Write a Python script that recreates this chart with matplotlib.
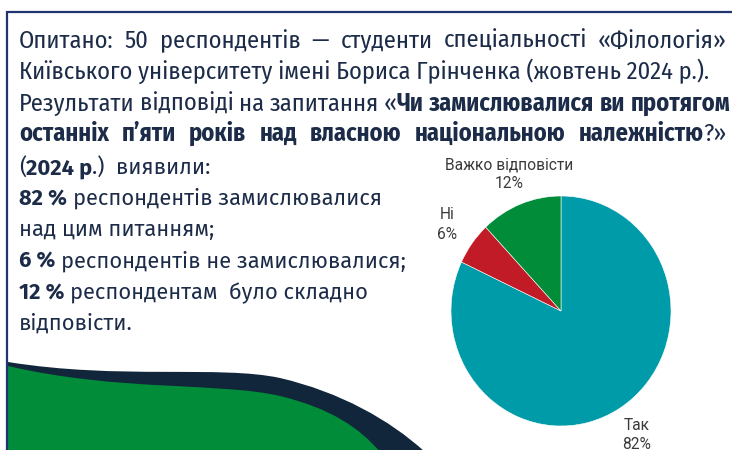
import matplotlib
matplotlib.use("Agg")
import matplotlib.pyplot as plt
from matplotlib import font_manager
from matplotlib.path import Path
from matplotlib.patches import PathPatch

# -------------------------------
# Data
# -------------------------------
answers = ["Так", "Ні", "Важко відповісти"]
shares = [82, 6, 12]
slice_colors = ["#009ba8", "#c01b27", "#008c39"]

N, B = "normal", "bold"
# each line: list of words, each word: list of (text, weight) runs
top_lines = [
    [[("Опитано:", N)], [("50", N)], [("респондентів", N)], [("—", N)],
     [("студенти", N)], [("спеціальності", N)], [("«Філологія»", N)]],
    [[("Київського університету імені Бориса Грінченка (жовтень 2024 р.).", N)]],
    [[("Результати", N)], [("відповіді", N)], [("на", N)], [("запитання", N)],
     [("«", N), ("Чи", B)], [("замислювалися", B)], [("ви", B)], [("протягом", B)]],
    [[("останніх", B)], [("п’яти", B)], [("років", B)], [("над", B)], [("власною", B)],
     [("національною", B)], [("належністю", B), ("?»", N)]],
]
top_justify = [727, None, 730, 727]
top_baselines = [48, 79, 111, 141]

bottom_lines = [
    [[("(", N), ("2024 р", B), (".)  виявили:", N)]],
    [[("82 %", B)], [("респондентів замислювалися", N)]],
    [[("над цим питанням;", N)]],
    [[("6 %", B)], [("респондентів не замислювалися;", N)]],
    [[("12 %", B)], [("респондентам  було складно", N)]],
    [[("відповісти.", N)]],
]
bottom_baselines = [175, 205, 236, 268, 299, 330]

TEXT_COLOR = "#1c2b48"
FRAME_COLOR = "#1f3470"
NAVY = "#12263b"
GREEN = "#008c39"
X0 = 19


def pick(*names):
    have = {f.name for f in font_manager.fontManager.ttflist}
    for n in names:
        if n in have:
            return n
    return "DejaVu Sans"


TOP_FONT = pick("Fira Sans Condensed", "Roboto Condensed", "Open Sans Condensed", "Noto Sans")
BOT_FONT = pick("Fira Sans", "Open Sans", "Noto Sans")
LABEL_FONT = pick("Roboto", "Inter", "Noto Sans")

fig = plt.figure(figsize=(7.32, 4.5), dpi=100)
bg = fig.add_axes([0, 0, 1, 1])
bg.set_xlim(0, 732)
bg.set_ylim(450, 0)
bg.axis("off")
renderer = fig.canvas.get_renderer()


def width_of(s, family, size, weight):
    t = bg.text(0, 0, s, family=family, fontsize=size, fontweight=weight)
    w = t.get_window_extent(renderer).width
    t.remove()
    return w


def space_of(family, size):
    return width_of("x x", family, size, N) - width_of("xx", family, size, N)


def line_width(words, family, size):
    total = sum(width_of(s, family, size, wt) for word in words for s, wt in word)
    return total + space_of(family, size) * (len(words) - 1)


def draw_line(words, family, size, y, right=None):
    sp = space_of(family, size)
    widths = [[width_of(s, family, size, wt) for s, wt in word] for word in words]
    if right is not None and len(words) > 1:
        used = sum(sum(w) for w in widths)
        sp = (right - X0 - used) / (len(words) - 1)
    x = X0
    for word, ws in zip(words, widths):
        for (s, wt), w in zip(word, ws):
            bg.text(x, y, s, family=family, fontsize=size, fontweight=wt,
                    color=TEXT_COLOR, va="baseline", ha="left")
            x += w
        x += sp


# fit font sizes to the widths seen in the picture
top_size = 10 * 688 / line_width(top_lines[1], TOP_FONT, 10)
bot_size = 10 * 362 / line_width(bottom_lines[1], BOT_FONT, 10)

for words, y, right in zip(top_lines, top_baselines, top_justify):
    draw_line(words, TOP_FONT, top_size, y, right)
for words, y in zip(bottom_lines, bottom_baselines):
    draw_line(words, BOT_FONT, bot_size, y)

# -------------------------------
# Frame and bottom wave
# -------------------------------
bg.plot([7, 7, 732], [452, 12, 12], color=FRAME_COLOR, lw=1.6, zorder=5,
        solid_joinstyle="miter")

navy_path = Path(
    [(8, 362), (120, 380), (220, 365), (280, 378), (340, 392), (390, 420), (425, 452),
     (8, 452), (8, 362)],
    [Path.MOVETO, Path.CURVE4, Path.CURVE4, Path.CURVE4, Path.CURVE4, Path.CURVE4,
     Path.CURVE4, Path.LINETO, Path.CLOSEPOLY])
green_path = Path(
    [(8, 366), (120, 392), (220, 382), (280, 396), (330, 408), (360, 428), (380, 452),
     (8, 452), (8, 366)],
    [Path.MOVETO, Path.CURVE4, Path.CURVE4, Path.CURVE4, Path.CURVE4, Path.CURVE4,
     Path.CURVE4, Path.LINETO, Path.CLOSEPOLY])
bg.add_patch(PathPatch(navy_path, facecolor=NAVY, edgecolor="none", zorder=2))
bg.add_patch(PathPatch(green_path, facecolor=GREEN, edgecolor="none", zorder=3))

# -------------------------------
# Pie
# -------------------------------
cx, cy, rx, ry = 561, 311, 110, 115
ax = fig.add_axes([(cx - rx) / 732, (450 - cy - ry) / 450, 2 * rx / 732, 2 * ry / 450])
labels = [f"{a}\n{v}%" for a, v in zip(answers, shares)]
wedges, texts = ax.pie(shares, labels=labels, colors=slice_colors, startangle=90,
                       counterclock=False, labeldistance=1.28,
                       wedgeprops=dict(edgecolor="white", linewidth=0.4),
                       textprops=dict(family=LABEL_FONT, fontsize=11.2, color="#3a3a3a",
                                      linespacing=1.35))
for t in texts:
    t.set_ha("center")
    t.set_va("center")
ax.set_aspect("auto")
ax.set_xlim(-1, 1)
ax.set_ylim(-1, 1)

fig.savefig("out.png", dpi=100)
